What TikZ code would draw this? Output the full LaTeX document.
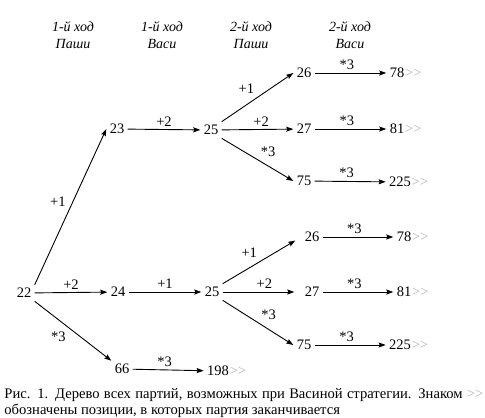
\documentclass[tikz,border=0pt]{standalone}
\usepackage{fontspec}
\setmainfont{Liberation Serif}
\usetikzlibrary{arrows.meta}
\tikzset{v/.style = {inner sep=3pt},
         fin/.style = {v, label={[gray!60, inner sep=0pt, label distance=-3pt]right:>{}>}},
         hd/.style = {align=center, inner sep=0pt, anchor=north, font=\itshape\fontsize{14}{17}\selectfont}}

\begin{document}
\begin{tikzpicture}[x=1pt, y=-1pt, >={Stealth[length=7pt, width=5pt, inset=1pt]}, line width=0.9pt, inner sep=3pt, font=\fontsize{14.5}{17}\selectfont]
    \useasboundingbox (0,0) rectangle (485,418);
    \node[hd] (h1) at (73,21) {1-й ход\\Паши};
    \node[hd] (h2) at (162,21) {1-й ход\\Васи};
    \node[hd] (h3) at (251,21) {2-й ход\\Паши};
    \node[hd] (h4) at (350,21) {2-й ход\\Васи};
    \node[v] (s) at (24,293) {22};
    \node[v] (a) at (117,129) {23};
    \node[v] (b) at (118,292) {24};
    \node[v] (c) at (122,369) {66};
    \node[v] (d) at (211,130) {25};
    \node[v] (e) at (212,292) {25};
    \node[v] (f) at (304,73) {26};
    \node[v] (g) at (304,129) {27};
    \node[v] (h) at (304,181) {75};
    \node[v] (i) at (312,237) {26};
    \node[v] (j) at (312,292) {27};
    \node[v] (k) at (304,345) {75};
    \node[fin] (l) at (397,73) {78};
    \node[fin] (m) at (397,129) {81};
    \node[fin] (n) at (400,182) {225};
    \node[fin] (o) at (404,237) {78};
    \node[fin] (p) at (404,292) {81};
    \node[fin] (q) at (400,345) {225};
    \node[fin] (r) at (218,371) {198};
    \draw[->] (s.north east) to[edge label =+1, pos=.48] (a.west);
    \draw[->] (s) to[edge label =+2, pos=.50] (b);
    \draw[->] (s) to[edge label'=*3, pos=.45] (c);
    \draw[->] (a) to[edge label =+2, pos=.50] (d);
    \draw[->] (b) to[edge label =+1, pos=.50] (e);
    \draw[->] (c) to[edge label =*3, pos=.45] (r);
    \draw[->] (d.north east) to[edge label =+1, pos=.50] (f.west);
    \draw[->] (d) to[edge label =+2, pos=.55] (g);
    \draw[->] (d.south east) to[edge label =*3, pos=.50] (h.west);
    \draw[->, shorten >=7pt] (e.north east) to[edge label =+1, pos=.48] (i.west);
    \draw[->, shorten >=7pt] (e) to[edge label =+2, pos=.53] (j);
    \draw[->] (e.south east) to[edge label =*3, pos=.50] (k.west);
    \draw[->] (f) to[edge label =*3, pos=.45] (l);
    \draw[->] (g) to[edge label =*3, pos=.45] (m);
    \draw[->] (h) to[edge label =*3, pos=.45] (n);
    \draw[->] (i) to[edge label =*3, pos=.45] (o);
    \draw[->] (j) to[edge label =*3, pos=.45] (p);
    \draw[->] (k) to[edge label =*3, pos=.45] (q);
    \node[anchor=north west, inner sep=0pt, text width=479pt, align=justify, font=\fontsize{14.6}{16.5}\selectfont] (cap) at (4,388)
      {Рис. 1. Дерево всех партий, возможных при Васиной стратегии. Знаком {\color{gray!60}>{}>}\linebreak обозначены позиции, в которых партия заканчивается};
  \end{tikzpicture}
\end{document}
